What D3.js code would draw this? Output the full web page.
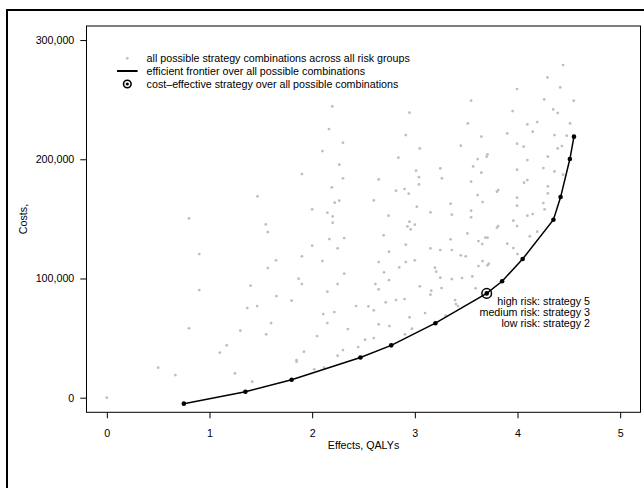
<!DOCTYPE html>
<html><head><meta charset="utf-8">
<script src="https://cdn.jsdelivr.net/npm/d3@7"></script>
<style>body{margin:0;background:#fff} svg{display:block} text{font-family:"Liberation Sans",Arial,Helvetica,sans-serif;}</style>
</head><body><svg id="c" width="644" height="488"></svg>
<script>
// ---- data ----
const frontierX = [0.75, 1.35, 1.80, 2.47, 2.77, 3.20, 3.70, 3.85, 4.05, 4.35, 4.42, 4.51, 4.55];
const frontierY = [-5000, 5000, 15000, 33700, 43900, 62500, 87500, 97700, 116300, 149300, 168300, 200200, 219000];
const costEffectiveIndex = 6;
const scatterPoints = [
[0,0],[0.5,25160],[0.668,19010],[0.8,58160],[0.8,150420],[0.9,120510],[0.9,90310],[1.1,37750],[1.168,43900],[1.248,20410],
[1.3,56200],[1.368,75210],[1.4,93950],[1.416,13420],[1.464,76890],[1.468,168880],[1.548,145390],[1.568,138960],[1.552,53120],[1.568,108760],
[1.6,62630],[1.648,115200],[1.652,85280],[1.8,81360],[1.848,31600],[1.848,30200],[1.868,99820],[1.9,95340],[1.9,118550],[1.9,187610],
[1.92,38580],[2.0,157970],[2.0,127500],[2.02,23770],[2.048,51730],[2.1,206900],[2.1,114640],[2.108,70180],[2.116,25160],[2.148,62630],
[2.148,88910],[2.148,155180],[2.164,225360],[2.168,133090],[2.192,176430],[2.196,244370],[2.2,152100],[2.2,146790],[2.216,71860],[2.22,163570],
[2.248,35230],[2.248,125260],[2.248,95340],[2.264,195440],[2.264,165240],[2.3,213890],[2.3,183980],[2.3,39980],[2.312,133930],[2.312,104010],
[2.348,57600],[2.428,76890],[2.448,42500],[2.516,48650],[2.548,76610],[2.6,165520],[2.6,50050],[2.6,73260],[2.616,95340],[2.648,183140],
[2.648,90870],[2.648,113800],[2.648,61510],[2.696,136170],[2.7,105130],[2.716,79970],[2.744,152660],[2.748,122470],[2.748,98700],[2.752,60110],
[2.816,81920],[2.816,173630],[2.84,201310],[2.848,109320],[2.9,175030],[2.9,82760],[2.904,53120],[2.912,220320],[2.912,128340],[2.912,113800],
[2.928,143710],[2.94,171120],[2.948,239060],[2.948,147630],[2.948,67380],[2.96,141190],[2.972,57880],[3.0,145110],[3.0,115200],[3.012,190410],
[3.02,160210],[3.04,185100],[3.04,178940],[3.048,209140],[3.048,93390],[3.1,71020],[3.152,155460],[3.152,125260],[3.152,86400],[3.16,89750],
[3.196,109040],[3.208,105690],[3.248,100660],[3.248,192360],[3.248,123860],[3.26,91990],[3.264,183980],[3.3,68780],[3.348,132810],[3.348,162730],
[3.36,153500],[3.36,123860],[3.36,99540],[3.392,81920],[3.4,78570],[3.42,76890],[3.448,211380],[3.448,119390],[3.46,100380],[3.496,118550],
[3.512,137840],[3.516,230110],[3.548,249120],[3.548,181180],[3.548,156860],[3.548,151270],[3.56,101770],[3.568,194040],[3.592,91710],[3.612,200190],
[3.612,170000],[3.62,110440],[3.62,131410],[3.648,218930],[3.648,188730],[3.656,128900],[3.66,164130],[3.66,114640],[3.688,134210],[3.7,202150],
[3.708,204110],[3.708,134210],[3.708,111000],[3.72,112400],[3.8,172790],[3.812,174190],[3.8,142600],[3.812,144000],[3.9,221720],[3.9,129180],
[3.952,240460],[3.96,125540],[3.96,148470],[3.996,258910],[3.996,213060],[3.996,191250],[3.996,167760],[3.996,161050],[3.996,144000],[4.0,120510],
[4.06,210540],[4.064,180340],[4.096,229270],[4.096,199350],[4.096,182580],[4.096,152660],[4.12,135330],[4.148,223120],[4.148,154060],[4.192,231230],
[4.192,139240],[4.252,192640],[4.252,163290],[4.26,250240],[4.264,157970],[4.292,268690],[4.296,202150],[4.296,177270],[4.296,171390],[4.348,241860],
[4.36,220320],[4.36,189850],[4.392,238780],[4.392,209140],[4.416,260310],[4.432,211100],[4.444,279040],[4.444,187050],[4.48,219770],[4.512,230110],
[4.548,249120]
];
const xTicks = [0, 1, 2, 3, 4, 5];
const yTicks = [0, 100000, 200000, 300000];
const xTitle = "Effects, QALYs";
const yTitle = "Costs,";
const legendLabels = [
  "all possible strategy combinations across all risk groups",
  "efficient frontier over all possible combinations",
  "cost\u2013effective strategy over all possible combinations"
];
const annotationLines = ["high risk: strategy 5", "medium risk: strategy 3", "low risk: strategy 2"];

// ---- drawing ----
const svg = d3.select("#c");
const FS = "10.7px";
const x = d3.scaleLinear().domain([-0.2, 5.2]).range([86.3, 640.7]);
const y = d3.scaleLinear().domain([-12250, 311800]).range([412.3, 26]);

// outer frame
svg.append("path").attr("d", "M7,490V10H646").attr("fill", "none").attr("stroke", "#000").attr("stroke-width", 2);

// scatter
svg.append("g").selectAll("circle").data(scatterPoints).join("circle")
  .attr("cx", d => x(d[0])).attr("cy", d => y(d[1])).attr("r", 1.4).attr("fill", "#bebebe");

// frontier
const fr = frontierX.map((v, i) => [v, frontierY[i]]);
svg.append("path").datum(fr)
  .attr("d", d3.line().x(d => x(d[0])).y(d => y(d[1])))
  .attr("fill", "none").attr("stroke", "#000").attr("stroke-width", 1.5);
svg.append("g").selectAll("circle").data(fr).join("circle")
  .attr("cx", d => x(d[0])).attr("cy", d => y(d[1])).attr("r", 2.3).attr("fill", "#000");
svg.append("circle").attr("cx", x(fr[costEffectiveIndex][0])).attr("cy", y(fr[costEffectiveIndex][1]))
  .attr("r", 4.8).attr("fill", "none").attr("stroke", "#000").attr("stroke-width", 1.5);

// annotation
svg.append("g").selectAll("text").data(annotationLines).join("text")
  .attr("x", 590).attr("y", (d, i) => 304.6 + i * 11)
  .attr("text-anchor", "end").attr("font-size", FS).attr("fill", "#000").text(d => d);

// box
svg.append("rect").attr("x", 86.5).attr("y", 26).attr("width", 554).attr("height", 386.3)
  .attr("fill", "none").attr("stroke", "#000").attr("stroke-width", 1);

// axes
const gx = svg.append("g").attr("transform", "translate(0,412.3)")
  .call(d3.axisBottom(x).tickValues(xTicks).tickFormat(d3.format("d")).tickSize(6).tickSizeOuter(0).tickPadding(11));
gx.select(".domain").remove();
gx.selectAll("text").attr("font-size", FS).attr("font-family", null).attr("fill", "#000");
gx.selectAll("line").attr("stroke", "#000");

const gy = svg.append("g").attr("transform", "translate(86.3,0)")
  .call(d3.axisLeft(y).tickValues(yTicks).tickFormat(d3.format(",")).tickSize(6).tickSizeOuter(0).tickPadding(6));
gy.select(".domain").remove();
gy.selectAll("text").attr("font-size", FS).attr("font-family", null).attr("fill", "#000");
gy.selectAll("line").attr("stroke", "#000");

svg.append("text").attr("x", 363.5).attr("y", 449).attr("text-anchor", "middle")
  .attr("font-size", FS).text(xTitle);
svg.append("text").attr("transform", "translate(26.5,219) rotate(-90)").attr("text-anchor", "middle")
  .attr("font-size", FS).text(yTitle);

// legend
const lg = svg.append("g");
const rows = [58.3, 71, 84];
lg.append("circle").attr("cx", 127.3).attr("cy", rows[0]).attr("r", 1.4).attr("fill", "#bebebe");
lg.append("line").attr("x1", 117).attr("x2", 137.6).attr("y1", rows[1]).attr("y2", rows[1])
  .attr("stroke", "#000").attr("stroke-width", 2);
lg.append("circle").attr("cx", 127.3).attr("cy", rows[2]).attr("r", 3.8).attr("fill", "none")
  .attr("stroke", "#000").attr("stroke-width", 1.6);
lg.append("circle").attr("cx", 127.3).attr("cy", rows[2]).attr("r", 1.6).attr("fill", "#000");
lg.selectAll("text.lt").data(legendLabels).join("text").attr("class", "lt")
  .attr("x", 146.6).attr("y", (d, i) => rows[i] + 3.9).attr("font-size", FS).text(d => d);
</script></body></html>
